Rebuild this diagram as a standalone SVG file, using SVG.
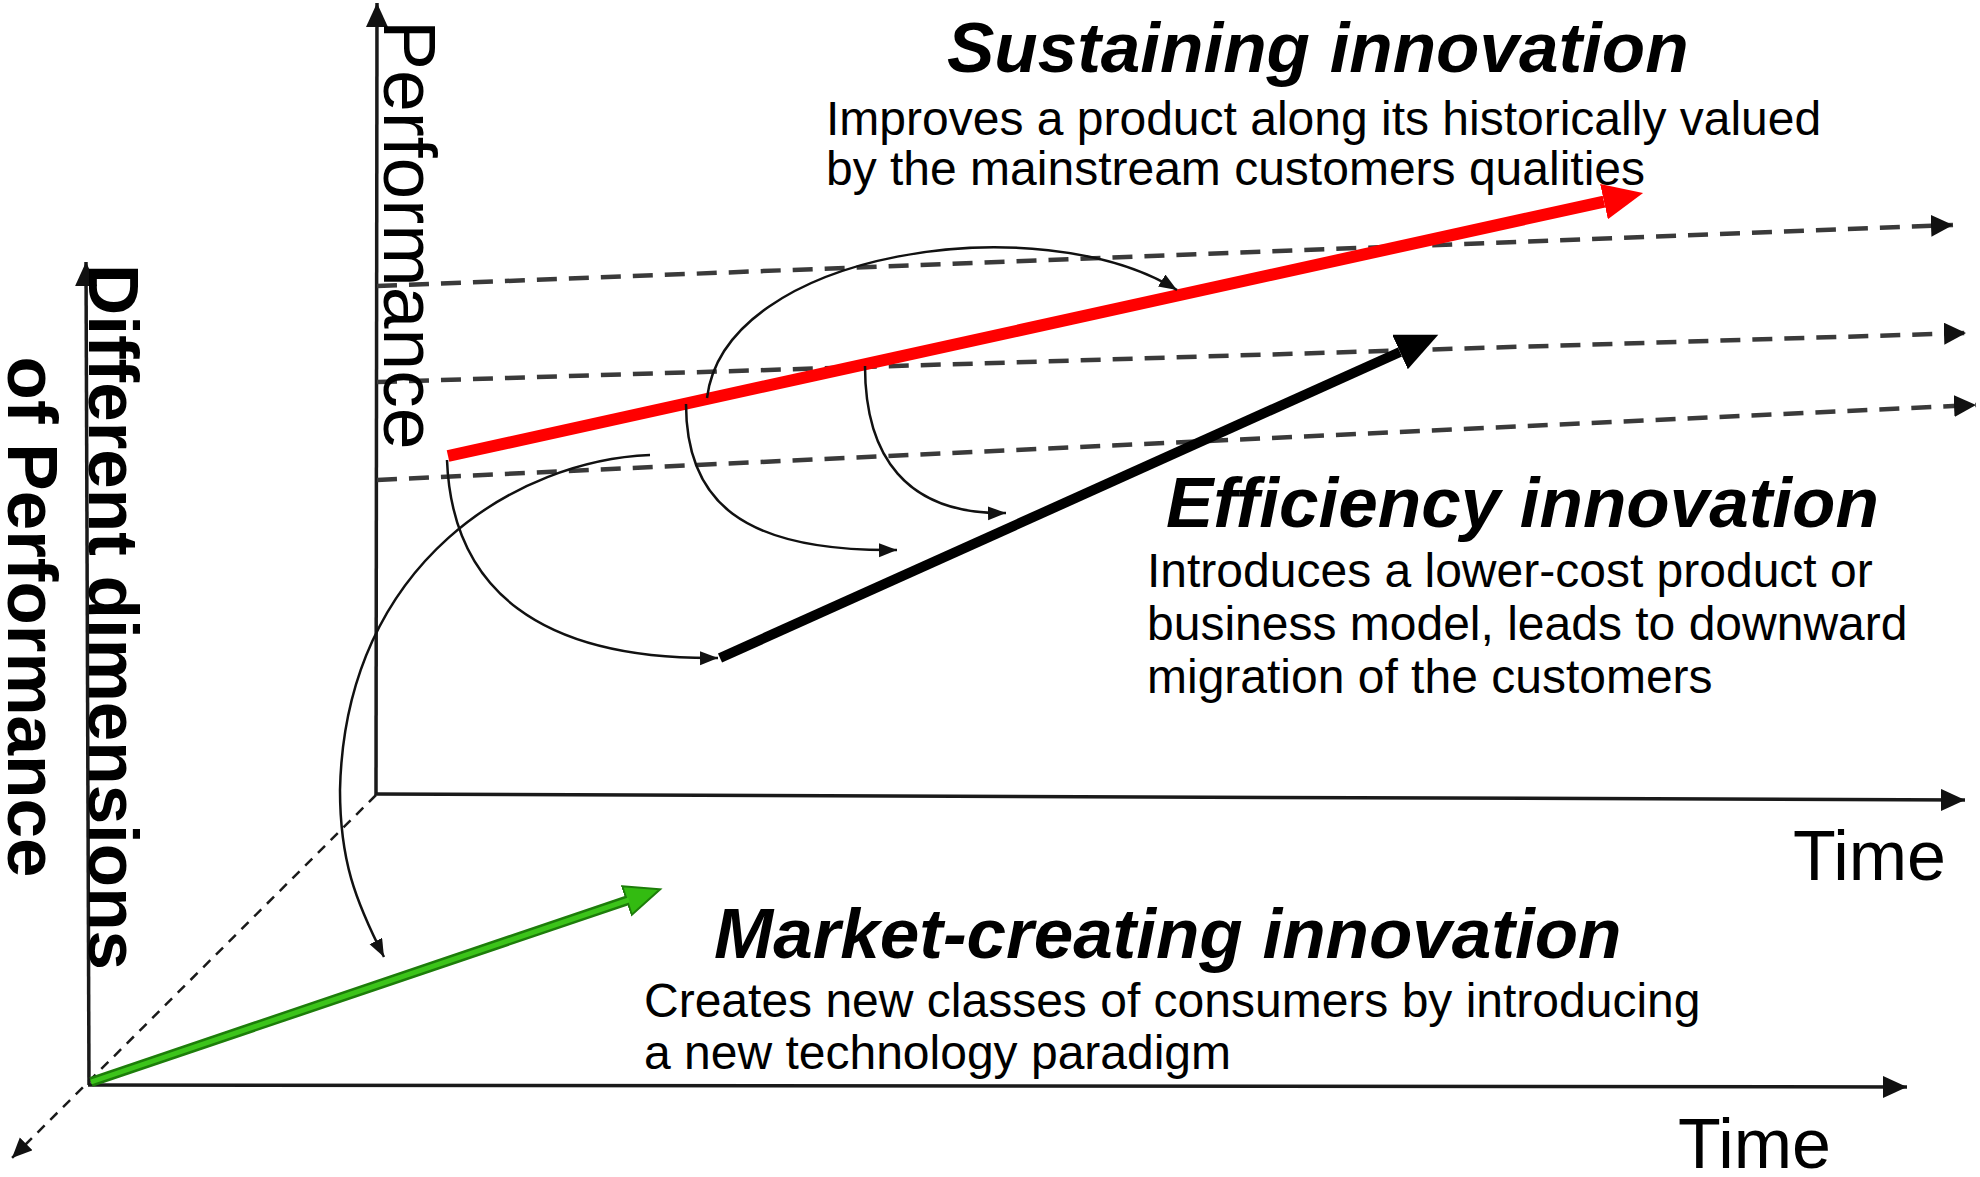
<svg xmlns="http://www.w3.org/2000/svg" width="1980" height="1177" viewBox="0 0 1980 1177">
<style>
  .axis { stroke:#1a1a1a; stroke-width:3.5; fill:none; }
  .dash { stroke:#3a3a3a; stroke-width:4.5; stroke-dasharray:20 12; fill:none; }
  .depth { stroke:#1a1a1a; stroke-width:2.5; stroke-dasharray:10 8; fill:none; }
  .curve { stroke:#111; stroke-width:2.5; fill:none; }
  .title { font-family:"Liberation Sans", Arial, sans-serif; font-weight:bold; font-style:italic; font-size:71px; fill:#000; }
  .desc { font-family:"Liberation Sans", Arial, sans-serif; font-size:48px; fill:#000; }
  .lab { font-family:"Liberation Sans", Arial, sans-serif; font-size:70px; fill:#000; }
  .vlab { font-family:"Liberation Sans", Arial, sans-serif; font-size:75px; fill:#000; }
  .blab { font-family:"Liberation Sans", Arial, sans-serif; font-weight:bold; font-size:71px; fill:#000; }
</style>
<defs>
  <marker id="ahThin" markerUnits="userSpaceOnUse" markerWidth="20" markerHeight="16" refX="18" refY="7" orient="auto">
    <path d="M0,0 L18,7 L0,14 z" fill="#111"/>
  </marker>
  <marker id="ahDash" markerUnits="userSpaceOnUse" markerWidth="24" markerHeight="24" refX="22" refY="11" orient="auto">
    <path d="M0,0 L22,11 L0,22 z" fill="#111"/>
  </marker>
  <marker id="ahAxis" markerUnits="userSpaceOnUse" markerWidth="26" markerHeight="24" refX="24" refY="11" orient="auto">
    <path d="M0,0 L24,11 L0,22 z" fill="#111"/>
  </marker>
  <marker id="ahSmall" markerUnits="userSpaceOnUse" markerWidth="22" markerHeight="20" refX="20" refY="9" orient="auto">
    <path d="M0,0 L20,9 L0,18 z" fill="#111"/>
  </marker>
  <marker id="ahRed" markerUnits="userSpaceOnUse" markerWidth="42" markerHeight="38" refX="0" refY="18" orient="auto">
    <path d="M0,0 L40,18 L0,36 z" fill="#ff0000"/>
  </marker>
  <marker id="ahBlack" markerUnits="userSpaceOnUse" markerWidth="44" markerHeight="40" refX="0" refY="19" orient="auto">
    <path d="M0,0 L42,19 L0,38 z" fill="#000"/>
  </marker>
  <marker id="ahGreen" markerUnits="userSpaceOnUse" markerWidth="40" markerHeight="36" refX="1" refY="16" orient="auto">
    <path d="M1,1 L36,16 L1,31 z" fill="#33bb11" stroke="#1d7d0a" stroke-width="2"/>
  </marker>
</defs>

<g id="axes">
  <line class="axis" x1="376" y1="795" x2="377" y2="3" marker-end="url(#ahAxis)"/>
  <line class="axis" x1="375" y1="794" x2="1965" y2="800" marker-end="url(#ahAxis)"/>
  <line class="axis" x1="89" y1="1085" x2="86" y2="262" marker-end="url(#ahAxis)"/>
  <line class="axis" x1="88" y1="1085" x2="1907" y2="1087" marker-end="url(#ahAxis)"/>
  <line class="depth" x1="376" y1="795" x2="12" y2="1158" marker-end="url(#ahSmall)"/>
</g>

<g id="trend-lines">
  <line class="dash" x1="377" y1="286" x2="1953" y2="225" marker-end="url(#ahDash)"/>
  <line class="dash" x1="377" y1="382" x2="1966" y2="333" marker-end="url(#ahDash)"/>
  <line class="dash" x1="377" y1="480" x2="1976" y2="405" marker-end="url(#ahDash)"/>
</g>

<g id="sustaining-arrow">
  <line x1="448" y1="456" x2="1604" y2="201.6" stroke="#ff0000" stroke-width="12" marker-end="url(#ahRed)"/>
</g>
<g id="efficiency-arrow">
  <line x1="720" y1="658" x2="1400" y2="352" stroke="#000" stroke-width="10" marker-end="url(#ahBlack)"/>
</g>
<g id="market-arrow">
  <line x1="91" y1="1082" x2="627" y2="900.5" stroke="#1d7d0a" stroke-width="10" marker-end="url(#ahGreen)"/>
  <line x1="91" y1="1082" x2="629" y2="899.8" stroke="#3cc41a" stroke-width="5"/>
</g>

<g id="connectors">
  <path class="curve" d="M447,460 C452,590 540,660 718,658" marker-end="url(#ahThin)"/>
  <path class="curve" d="M686,404 C686,500 740,552 897,550" marker-end="url(#ahThin)"/>
  <path class="curve" d="M707,398 C725,250 1040,205 1177,290" marker-end="url(#ahThin)"/>
  <path class="curve" d="M865,366 C865,455 905,515 1006,513" marker-end="url(#ahThin)"/>
  <path class="curve" d="M650,455 C520,460 345,560 340,790 C340,860 355,900 384,957" marker-end="url(#ahThin)"/>
</g>

<g id="sustaining-label">
  <text class="title" x="947" y="72">Sustaining innovation</text>
  <text class="desc" x="826" y="135">Improves a product along its historically valued</text>
  <text class="desc" x="826" y="185">by the mainstream customers qualities</text>
</g>
<g id="efficiency-label">
  <text class="title" x="1166" y="527">Efficiency innovation</text>
  <text class="desc" x="1147" y="587">Introduces a lower-cost product or</text>
  <text class="desc" x="1147" y="640">business model, leads to downward</text>
  <text class="desc" x="1147" y="693">migration of the customers</text>
</g>
<g id="market-label">
  <text class="title" x="714" y="958">Market-creating innovation</text>
  <text class="desc" x="644" y="1017">Creates new classes of consumers by introducing</text>
  <text class="desc" x="644" y="1069">a new technology paradigm</text>
</g>
<g id="axis-labels">
  <text class="vlab" transform="translate(384,20) rotate(90)">Performance</text>
  <text class="lab" x="1793" y="880">Time</text>
  <text class="lab" x="1678" y="1168">Time</text>
  <text class="blab" transform="translate(89,617) rotate(90)" text-anchor="middle">Different dimensions</text>
  <text class="blab" transform="translate(8,617) rotate(90)" text-anchor="middle">of Performance</text>
</g>
</svg>
